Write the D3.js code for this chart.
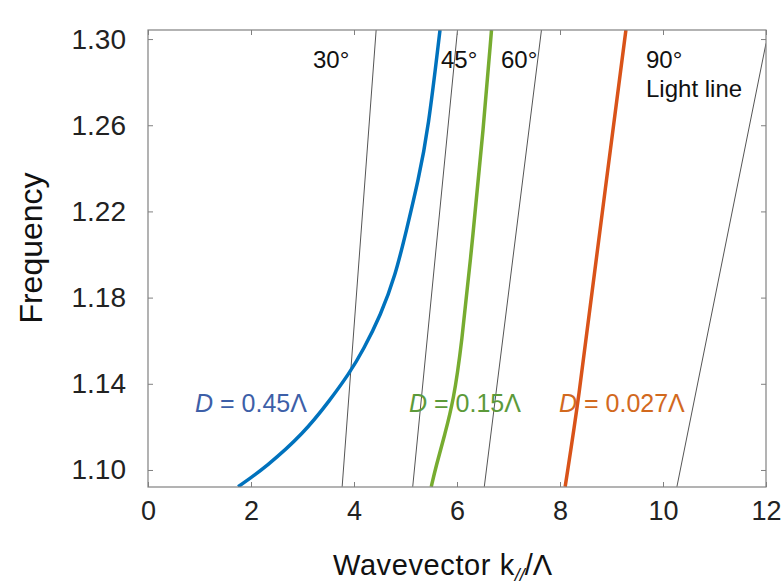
<!DOCTYPE html>
<html lang="en">
<head>
<meta charset="UTF-8">
<title>Frequency vs wavevector</title>
<script src="https://d3js.org/d3.v7.min.js"></script>
<style>
    body { margin: 0; background: #fff; }
    text { font-family: "Liberation Sans", Arial, sans-serif; }
</style>
</head>
<body>
<svg width="782" height="588"></svg>
<script>
    // data: [k, frequency]
    var xTicks = [0, 2, 4, 6, 8, 10, 12];
    var yTicks = [1.10, 1.14, 1.18, 1.22, 1.26, 1.30];

    var bandLarge = [[1.75, 1.0922], [2.30, 1.1015], [3.02, 1.1169], [3.53, 1.1323], [3.91, 1.1449],
        [4.18, 1.1557], [4.52, 1.1720], [4.80, 1.1900], [5.02, 1.2114], [5.25, 1.2346],
        [5.44, 1.2578], [5.67, 1.3042]];
    var bandMid = [[5.50, 1.0922], [5.59, 1.1015], [5.77, 1.1170], [5.93, 1.1323], [6.08, 1.1557],
        [6.32, 1.2114], [6.51, 1.2578], [6.67, 1.3042]];
    var bandSmall = [[8.10, 1.0922], [8.37, 1.1340], [8.65, 1.1882], [9.28, 1.3042]];

    var lightLines = [
        [[3.77, 1.0922], [4.43, 1.3042]],
        [[5.14, 1.0922], [6.01, 1.3042]],
        [[6.53, 1.0922], [7.64, 1.3042]],
        [[10.27, 1.0922], [12.0, 1.298]]
    ];

    var svg = d3.select("svg");
    var x = d3.scaleLinear().domain([0, 12]).range([148, 766]);
    var y = d3.scaleLinear().domain([1.0921, 1.3042]).range([487, 30]);

    svg.append("clipPath").attr("id", "plot")
        .append("rect")
        .attr("x", 148).attr("y", 30)
        .attr("width", 618).attr("height", 457);

    var line = d3.line()
        .x(function (d) { return x(d[0]); })
        .y(function (d) { return y(d[1]); });

    var g = svg.append("g").attr("clip-path", "url(#plot)");

    g.selectAll(".light")
        .data(lightLines)
        .enter()
        .append("path")
        .attr("d", line)
        .attr("fill", "none")
        .attr("stroke", "#555")
        .attr("stroke-width", 1);

    var smooth = d3.line()
        .curve(d3.curveBasis)
        .x(function (d) { return x(d[0]); })
        .y(function (d) { return y(d[1]); });

    var bands = [bandLarge, bandMid, bandSmall];
    var bandColor = ["#0072BD", "#77AC30", "#D95319"];
    g.selectAll(".band")
        .data(bands)
        .enter()
        .append("path")
        .attr("d", smooth)
        .attr("fill", "none")
        .attr("stroke", function (d, i) { return bandColor[i]; })
        .attr("stroke-width", 3.5);

    // frame and inside ticks
    svg.append("rect")
        .attr("x", 148).attr("y", 30)
        .attr("width", 618).attr("height", 457)
        .attr("fill", "none")
        .attr("stroke", "#808080")
        .attr("stroke-width", 1.2);

    svg.append("g")
        .attr("transform", "translate(0,487)")
        .call(d3.axisBottom(x).tickValues(xTicks).tickSize(-5).tickFormat(function (d) { return d; }))
        .call(function (a) {
            a.select(".domain").remove();
            a.selectAll("line").attr("stroke", "#808080");
            a.selectAll("text").attr("font-size", 27).attr("fill", "#222").attr("dy", "1.1em")
                .attr("font-family", "Liberation Sans, Arial, sans-serif");
        });
    svg.append("g")
        .attr("transform", "translate(0,30)")
        .call(d3.axisTop(x).tickValues(xTicks).tickSize(-5).tickFormat(""))
        .call(function (a) {
            a.select(".domain").remove();
            a.selectAll("line").attr("stroke", "#808080");
        });
    svg.append("g")
        .attr("transform", "translate(148,0)")
        .call(d3.axisLeft(y).tickValues(yTicks).tickSize(-5).tickPadding(22).tickFormat(d3.format(".2f")))
        .call(function (a) {
            a.select(".domain").remove();
            a.selectAll("line").attr("stroke", "#808080");
            a.selectAll("text").attr("font-size", 28).attr("fill", "#222")
                .attr("font-family", "Liberation Sans, Arial, sans-serif");
        });
    svg.append("g")
        .attr("transform", "translate(766,0)")
        .call(d3.axisRight(y).tickValues(yTicks).tickSize(-5).tickFormat(""))
        .call(function (a) {
            a.select(".domain").remove();
            a.selectAll("line").attr("stroke", "#808080");
        });

    // axis titles
    svg.append("text")
        .attr("transform", "translate(42,248) rotate(-90)")
        .attr("text-anchor", "middle")
        .attr("font-size", 32)
        .attr("fill", "#111")
        .text("Frequency");

    var xt = svg.append("text")
        .attr("x", 333).attr("y", 575)
        .attr("font-size", 29)
        .attr("fill", "#111");
    xt.append("tspan").attr("letter-spacing", 0.6).text("Wavevector  k");
    xt.append("tspan").attr("font-size", 18).attr("font-style", "italic").attr("dy", 6).text("//");
    xt.append("tspan").attr("dy", -6).text("/Λ");

    // angle labels
    var angleLabels = [["30°", 313], ["45°", 441], ["60°", 501], ["90°", 646]];
    svg.selectAll(".ang")
        .data(angleLabels)
        .enter()
        .append("text")
        .attr("x", function (d) { return d[1]; })
        .attr("y", 68)
        .attr("font-size", 24)
        .attr("fill", "#111")
        .text(function (d) { return d[0]; });
    svg.append("text")
        .attr("x", 646).attr("y", 97)
        .attr("font-size", 24)
        .attr("fill", "#111")
        .text("Light line");

    // band labels
    var bandLabels = [["0.45Λ", 195, "#3D5FA8"], ["0.15Λ", 409, "#5C9A3A"], ["0.027Λ", 559, "#D2691E"]];
    bandLabels.forEach(function (b) {
        var t = svg.append("text")
            .attr("x", b[1]).attr("y", 412)
            .attr("font-size", 25)
            .attr("fill", b[2]);
        t.append("tspan").attr("font-style", "italic").text("D");
        t.append("tspan").text(" = " + b[0]);
    });
</script>
</body>
</html>
